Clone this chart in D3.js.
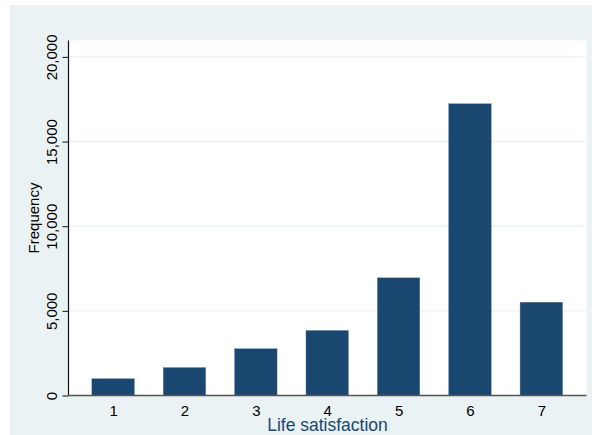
<!DOCTYPE html>
<html>
<head>
<meta charset="utf-8">
<script src="https://cdn.jsdelivr.net/npm/d3@7"></script>
<style>
  body { margin: 0; background: #ffffff; }
  svg { display: block; }
</style>
</head>
<body>
<svg id="chart" width="592" height="435"></svg>
<script>
// data
const categories = [1, 2, 3, 4, 5, 6, 7]
const frequencies = [990, 1650, 2760, 3840, 6950, 17230, 5510]
const yTicks = [0, 5000, 10000, 15000, 20000]

const width = 592
const height = 435
const plot = { left: 68.5, right: 586.5, top: 40.5, bottom: 395.5 }

const svg = d3.select('#chart')

// outer background (graph region)
svg
  .append('rect')
  .attr('x', 10)
  .attr('y', 5)
  .attr('width', width - 10)
  .attr('height', height - 5)
  .attr('fill', '#eaf2f3')

// plot region
svg
  .append('rect')
  .attr('x', plot.left)
  .attr('y', plot.top)
  .attr('width', plot.right - plot.left)
  .attr('height', plot.bottom - plot.top)
  .attr('fill', '#ffffff')

// scales
const x = d3.scaleLinear().domain([0.375, 7.633]).range([plot.left, plot.right])
const y = d3.scaleLinear().domain([0, 20000]).range([plot.bottom, 56.9])
const barWidth = (x(1) - x(0)) * 0.595

// gridlines
svg
  .append('g')
  .attr('id', 'grid')
  .selectAll('line')
  .data(yTicks.filter((d) => d > 0))
  .join('line')
  .attr('x1', plot.left)
  .attr('x2', plot.right)
  .attr('y1', (d) => y(d))
  .attr('y2', (d) => y(d))
  .attr('stroke', '#eaf2f3')
  .attr('stroke-width', 1.2)

// bars
svg
  .append('g')
  .attr('id', 'bars')
  .selectAll('rect')
  .data(categories.map((c, i) => ({ cat: c, value: frequencies[i] })))
  .join('rect')
  .attr('x', (d) => x(d.cat) - barWidth / 2)
  .attr('y', (d) => y(d.value))
  .attr('width', barWidth)
  .attr('height', (d) => y(0) - y(d.value))
  .attr('fill', '#1a476f')
  .attr('stroke', '#5a7fa0')
  .attr('stroke-width', 0.4)

// y axis
const yAxis = svg
  .append('g')
  .attr('id', 'yAxis')
  .attr('transform', `translate(${plot.left},0)`)
  .call(
    d3
      .axisLeft(y)
      .tickValues(yTicks)
      .tickSize(6)
      .tickPadding(0)
      .tickFormat(d3.format(','))
  )
yAxis.select('.domain').attr('stroke', '#111').attr('stroke-width', 1.2).attr('d', `M0,${plot.top}V${plot.bottom}`)
yAxis.selectAll('.tick line').attr('stroke', '#111').attr('stroke-width', 1)
yAxis
  .selectAll('.tick text')
  .attr('font-family', 'Arial, "Liberation Sans", sans-serif')
  .attr('font-size', 15)
  .attr('fill', '#000')
  .attr('text-anchor', 'middle')
  .attr('transform', 'rotate(-90)')
  .attr('x', 0)
  .attr('y', -11.5)
  .attr('dy', 0)

// x axis
const xAxis = svg
  .append('g')
  .attr('id', 'xAxis')
  .attr('transform', `translate(0,${plot.bottom})`)
  .call(d3.axisBottom(x).tickValues(categories).tickSize(0).tickPadding(0))
xAxis.select('.domain').attr('stroke', '#555').attr('stroke-width', 1.6).attr('d', `M${plot.left},0H${plot.right}`)
xAxis
  .selectAll('.tick text')
  .attr('font-family', 'Arial, "Liberation Sans", sans-serif')
  .attr('font-size', 15)
  .attr('fill', '#000')
  .attr('y', 20.5)
  .attr('dy', 0)

// axis titles
svg
  .append('text')
  .attr('x', (plot.left + plot.right) / 2)
  .attr('y', 431)
  .attr('text-anchor', 'middle')
  .attr('font-family', 'Arial, "Liberation Sans", sans-serif')
  .attr('font-size', 17.5)
  .attr('fill', '#1a476f')
  .text('Life satisfaction')

svg
  .append('text')
  .attr('transform', `translate(39,${(plot.top + plot.bottom) / 2}) rotate(-90)`)
  .attr('text-anchor', 'middle')
  .attr('font-family', 'Arial, "Liberation Sans", sans-serif')
  .attr('font-size', 15)
  .attr('fill', '#000')
  .text('Frequency')
</script>
</body>
</html>
